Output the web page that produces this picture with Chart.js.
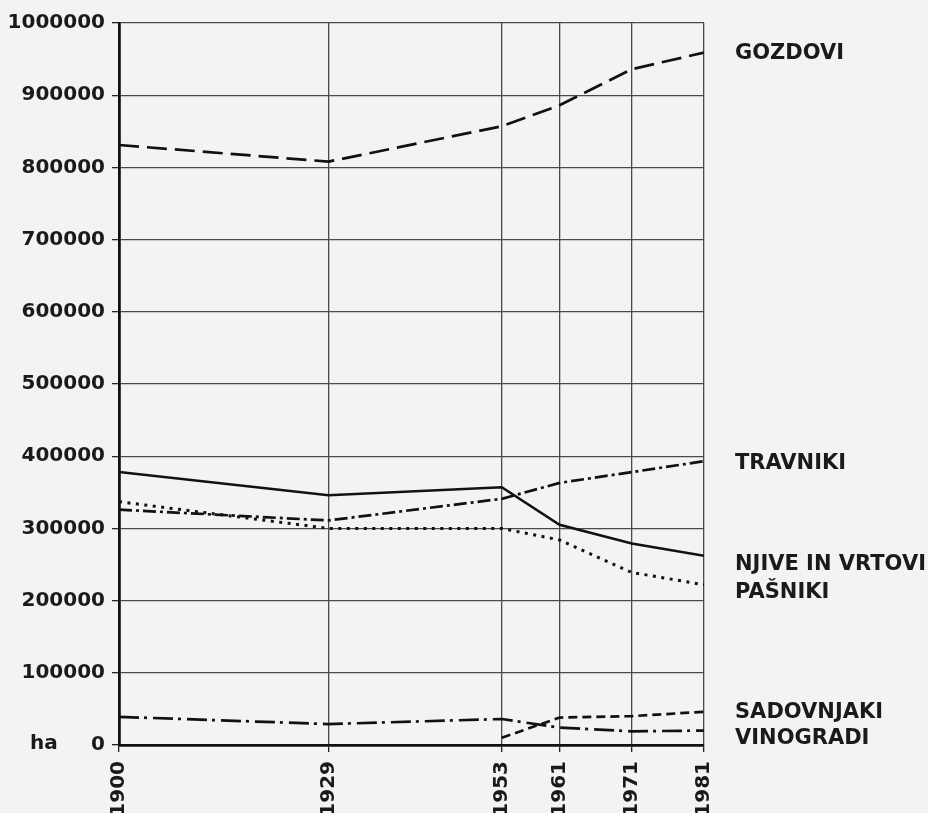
<!DOCTYPE html>
<html>
<head>
<meta charset="utf-8">
<script src="https://cdn.jsdelivr.net/npm/chart.js@4"></script>
<style>
  html, body { margin: 0; padding: 0; background: #f3f3f1; overflow: hidden; }
  #wrap { width: 928px; height: 813px; }
</style>
</head>
<body>
<div id="wrap"><canvas id="landUse"></canvas></div>
<script>
// years on the x axis (linear scale) and land use in ha
const years = [1900, 1929, 1953, 1961, 1971, 1981];
const gozdovi = [831000, 808000, 857000, 886000, 936000, 959000];
const njive = [378000, 346000, 357000, 305000, 279000, 262000];
const travniki = [326000, 311000, 341000, 363000, 378000, 393000];
const pasniki = [337000, 300000, 300000, 284000, 239000, 222000];
const sadovnjaki = [null, null, 10000, 38000, 40000, 46000];
const vinogradi = [39000, 29000, 36000, 24000, 19000, 20000];
const yTicks = [0, 100000, 200000, 300000, 400000, 500000, 600000, 700000, 800000, 900000, 1000000];
const seriesNames = ['GOZDOVI', 'TRAVNIKI', 'NJIVE IN VRTOVI', 'PAŠNIKI', 'SADOVNJAKI', 'VINOGRADI'];

const FONT = 'DejaVu Sans, sans-serif';
const toPoints = arr => years.map((y, i) => ({ x: y, y: arr[i] }));

const line = (label, arr, dash, width) => ({
    label: label,
    data: toPoints(arr),
    borderColor: '#111',
    borderWidth: width || 2.7,
    borderDash: dash,
    borderCapStyle: 'butt',
    pointRadius: 0,
    tension: 0,
    spanGaps: false,
    fill: false
});

// right-hand labels, nudged a little off the end of each line
const endLabels = {
    id: 'endLabels',
    afterDatasetsDraw(chart) {
        const ctx = chart.ctx;
        const yScale = chart.scales.y;
        const nudges = { 'GOZDOVI': 1, 'TRAVNIKI': 2, 'NJIVE IN VRTOVI': 9, 'PAŠNIKI': 8, 'SADOVNJAKI': 1, 'VINOGRADI': 8 };
        ctx.save();
        ctx.fillStyle = '#1a1a1a';
        ctx.font = 'bold 21px ' + FONT;
        ctx.textBaseline = 'middle';
        ctx.textAlign = 'left';
        chart.data.datasets.forEach(ds => {
            const last = ds.data[ds.data.length - 1].y;
            ctx.fillText(ds.label, chart.chartArea.right + 31, yScale.getPixelForValue(last) + nudges[ds.label]);
        });
        ctx.font = 'bold 20px ' + FONT;
        ctx.fillText('ha', 30, yScale.getPixelForValue(0) - 1);
        ctx.restore();
    }
};

new Chart(document.getElementById('landUse'), {
    type: 'line',
    data: {
        datasets: [
            line(seriesNames[0], gozdovi, [20, 8]),
            line(seriesNames[1], travniki, [13, 4, 3, 4]),
            line(seriesNames[2], njive, [], 2.5),
            line(seriesNames[3], pasniki, [3, 5.5], 3),
            line(seriesNames[4], sadovnjaki, [9, 5]),
            line(seriesNames[5], vinogradi, [20, 5, 3, 6])
        ]
    },
    options: {
        responsive: true,
        maintainAspectRatio: false,
        animation: false,
        layout: { padding: { left: 0, right: 224, top: 23, bottom: 0 } },
        plugins: {
            legend: { display: false },
            tooltip: { enabled: false }
        },
        scales: {
            x: {
                type: 'linear',
                min: 1900,
                max: 1981,
                afterBuildTicks: scale => { scale.ticks = years.map(v => ({ value: v })); },
                afterFit: scale => { scale.height = 68; },
                grid: { color: '#4a4a4a', lineWidth: 1.3, tickLength: 7, tickColor: '#222' },
                border: { color: '#111', width: 2.8 },
                ticks: {
                    minRotation: 90,
                    maxRotation: 90,
                    autoSkip: false,
                    padding: 9,
                    color: '#1a1a1a',
                    font: { family: FONT, size: 20, weight: 'bold' },
                    callback: v => String(v)
                }
            },
            y: {
                min: 0,
                max: 1000000,
                afterBuildTicks: scale => { scale.ticks = yTicks.map(v => ({ value: v })); },
                afterFit: scale => { scale.width = 119; },
                grid: { color: '#4a4a4a', lineWidth: 1.3, tickLength: 7, tickColor: '#222' },
                border: { color: '#111', width: 2.8 },
                ticks: {
                    padding: 7,
                    color: '#1a1a1a',
                    font: { family: FONT, size: 20, weight: 'bold' },
                    callback: v => String(v)
                }
            }
        }
    },
    plugins: [endLabels]
});
</script>
</body>
</html>
